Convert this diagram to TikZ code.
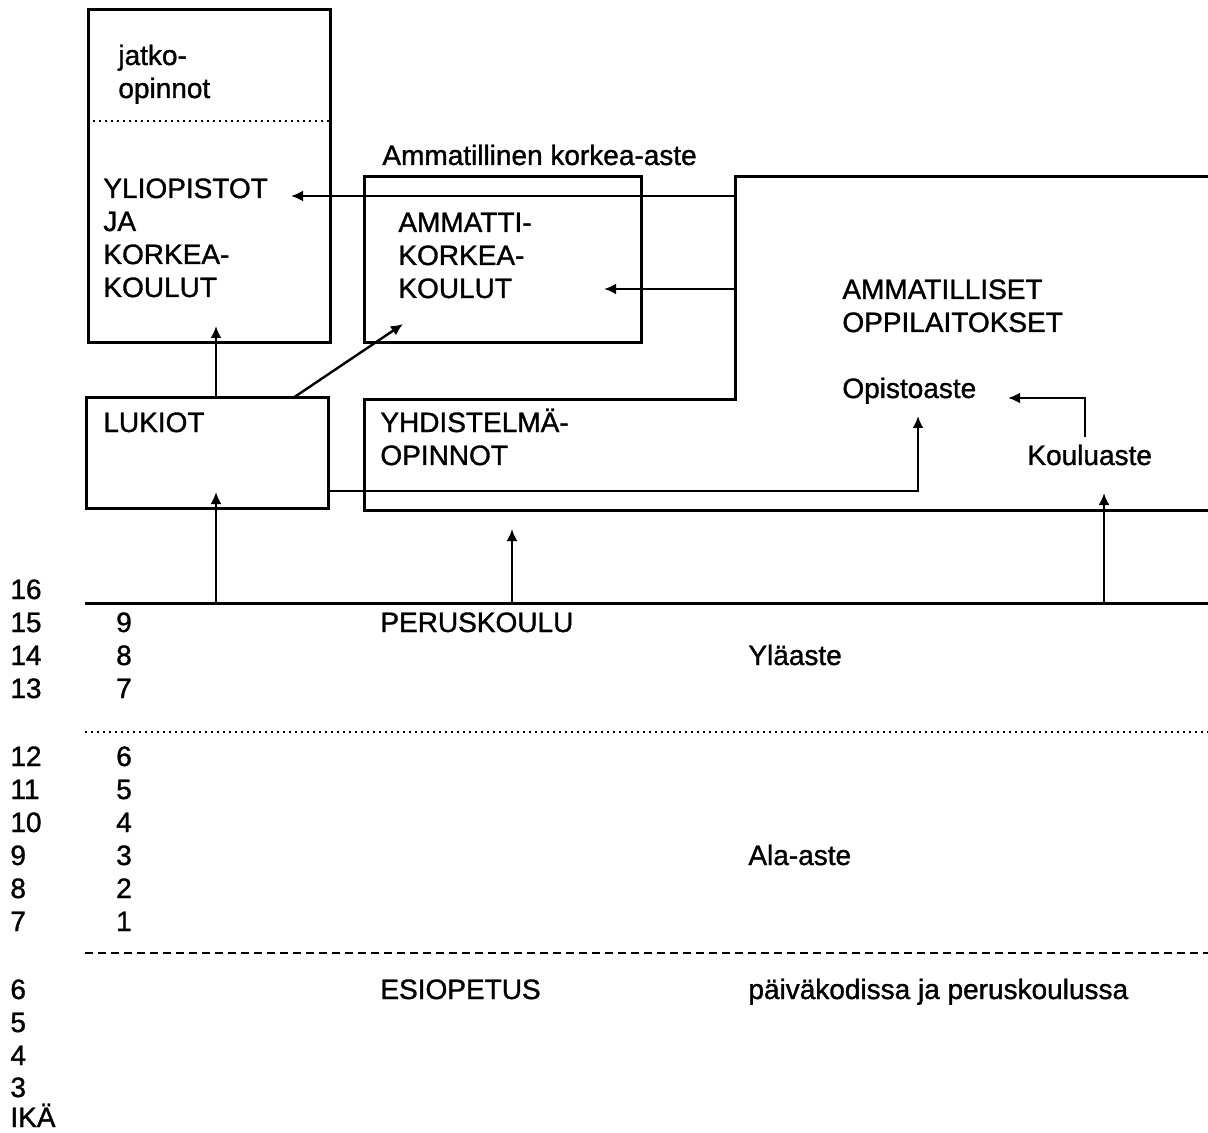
\documentclass[tikz,border=0pt]{standalone}
\usepackage{fontspec}
\setmainfont{Liberation Sans}[FakeBold=1.2]
\usetikzlibrary{arrows.meta, positioning}

\begin{document}
\begin{tikzpicture}[
        x=0.5pt, y=-0.5pt,
        font=\fontsize{14}{16.5}\selectfont,
        box/.style={
            rectangle,
            draw=black,
            line width=1.5pt,
            minimum width=121pt
        },
        txt/.style={
            anchor=base west,
            inner sep=0pt,
            align=left
        },
        arrow/.style={-{Latex[length=6pt, width=5.5pt]}, line width=1.2pt},
        frameline/.style={line width=1.5pt},
        dotline/.style={line width=0.9pt, dash pattern=on 1.2pt off 1.8pt},
        dashline/.style={line width=1.1pt, dash pattern=on 4pt off 2.5pt}
    ]

    \useasboundingbox (0,0) rectangle (1208,1133);

    % Boxes
    \node (univ) [box, minimum height=166.5pt] at (209,176.5) {};
    \node (amk) [box, minimum width=138.5pt, minimum height=83pt] at (502.5,260) {};
    \node (lukbox) [box, minimum height=55pt] at (207,453) {};
    \draw [dotline] (univ.west |- 0,121) -- (univ.east |- 0,121);

    % Ammatilliset frame
    \draw [frameline] (1212,177) -- (735,177) -- (735,400) -- (364,400)
        -- (364,510) -- (1212,510);

    % Texts (base = last line)
    \node (jatko) [txt] at (118,98) {jatko-\\opinnot};
    \node (yliopistot) [txt] at (103,297) {YLIOPISTOT\\JA\\KORKEA-\\KOULUT};
    \node (amkhead) [txt] at (382,165) {Ammatillinen korkea-aste};
    \node (ammatti) [txt] at (398,298) {AMMATTI-\\KORKEA-\\KOULUT};
    \node (lukiot) [txt] at (103,432) {LUKIOT};
    \node (yhdist) [txt] at (380,465) {YHDISTELMÄ-\\OPINNOT};
    \node (ammlait) [txt] at (842,332) {AMMATILLISET\\OPPILAITOKSET};
    \node (opisto) [txt] at (842,398) {Opistoaste};
    \node (koulu) [txt] at (1027,465) {Kouluaste};

    % Arrow ends
    \coordinate (fr-a) at (735,196);
    \coordinate (fr-b) at (735,289);
    \coordinate (yl-in) at (291,196);
    \coordinate (kk-in) at (604,289);
    \coordinate (univ-in) at (216,326);
    \coordinate (luk-out) at (293,398);
    \coordinate (amk-in) at (403,324);
    \coordinate (luk-r) at (328,491);
    \coordinate (opisto-in) at (918,416);
    \coordinate (koulu-up) at (1085,437);
    \coordinate (opisto-r) at (1008,398);
    \coordinate (luk-in) at (216,492);
    \coordinate (yhd-in) at (512,529);
    \coordinate (koulu-in) at (1104,493);

    % Arrows
    \draw [arrow] (fr-a) -- (yl-in);
    \draw [arrow] (fr-b) -- (kk-in);
    \draw [arrow] (univ-in |- lukbox.north) -- (univ-in);
    \draw [arrow] (luk-out) -- (amk-in);
    \draw [arrow] (luk-r) -| (opisto-in);
    \draw [arrow] (koulu-up) |- (opisto-r);

    % Peruskoulu
    \coordinate (pk-w) at (85,603);
    \coordinate (pk-e) at (1212,603);
    \draw [frameline] (pk-w) -- (pk-e);
    \foreach \c in {luk-in, yhd-in, koulu-in}
        \draw [arrow] (\c |- pk-w) -- (\c);

    \draw [dotline] (pk-w |- 0,732) -- (pk-e |- 0,732);
    \draw [dashline] (pk-w |- 0,953) -- (pk-e |- 0,953);

    \node (perus) [txt] at (380,632) {PERUSKOULU};
    \node (yla) [txt] at (748,665) {Yläaste};
    \node (ala) [txt] at (748,865) {Ala-aste};
    \node (esi) [txt] at (380,999) {ESIOPETUS};
    \node (paiva) [txt] at (748,999) {päiväkodissa ja peruskoulussa};

    % Ages and grades
    \foreach \age/\yy in {16/599, 15/632, 14/665, 13/698, 12/766, 11/799,
            10/832, 9/865, 8/898, 7/931, 6/999, 5/1032, 4/1065, 3/1097}
        \node (age\age) [txt] at (10,\yy) {\age};
    \node (ika) [txt] at (10,1127) {IKÄ};

    \foreach \gr/\yy in {9/632, 8/665, 7/698, 6/766, 5/799, 4/832, 3/865,
            2/898, 1/931}
        \node (grade\gr) [txt, anchor=base] at (124,\yy) {\gr};

\end{tikzpicture}
\end{document}
